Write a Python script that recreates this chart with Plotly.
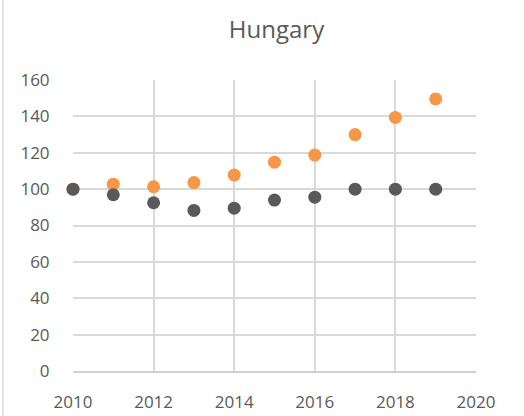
import plotly.graph_objects as go

years = [2010, 2011, 2012, 2013, 2014, 2015, 2016, 2017, 2018, 2019]
orange_vals = [100, 102.7, 101.3, 103.6, 107.7, 114.8, 118.7, 130.0, 139.4, 149.6]
gray_vals = [100, 96.9, 92.5, 88.3, 89.5, 94.0, 95.6, 100, 100, 100]

x_ticks = [2010, 2012, 2014, 2016, 2018, 2020]
y_ticks = [0, 20, 40, 60, 80, 100, 120, 140, 160]

fig = go.Figure()
fig.add_trace(go.Scatter(x=years, y=orange_vals, mode="markers",
                         marker=dict(color="#F79646", size=13), showlegend=False,
                         cliponaxis=False))
fig.add_trace(go.Scatter(x=years, y=gray_vals, mode="markers",
                         marker=dict(color="#595959", size=13), showlegend=False,
                         cliponaxis=False))

fig.update_layout(
    width=524, height=416,
    margin=dict(l=73, r=48, t=80, b=45, pad=0),
    paper_bgcolor="white", plot_bgcolor="white",
    font=dict(family="Open Sans", color="#595959", size=17),
    title=dict(text="Hungary", x=0.505, xanchor="center", xref="paper",
               y=1 - 30 / 416, yref="container", yanchor="middle",
               font=dict(size=24, color="#595959")),
)
fig.update_xaxes(range=[2010, 2020], tickvals=x_ticks, showgrid=True,
                 gridcolor="#D9D9D9", gridwidth=1.5, zeroline=False,
                 showline=True, linecolor="#D0D0D0", linewidth=1.5,
                 ticks="outside", ticklen=15, tickcolor="rgba(0,0,0,0)",
                 automargin=False, tickfont=dict(size=17))
fig.update_yaxes(range=[0, 160], tickvals=y_ticks, showgrid=True,
                 gridcolor="#D9D9D9", gridwidth=1.5, zeroline=False,
                 showline=False, ticks="outside", ticklen=19,
                 tickcolor="rgba(0,0,0,0)", automargin=False,
                 tickfont=dict(size=17))
# chart frame left edge
fig.add_shape(type="line", xref="paper", yref="paper",
              x0=-70 / 403, x1=-70 / 403, y0=-1.2, y1=1.5,
              line=dict(color="#D9D9D9", width=1.5))
fig.write_html("out.html", config={"displayModeBar": False},
               post_script="document.body.style.margin='0';document.body.style.overflow='hidden';")
